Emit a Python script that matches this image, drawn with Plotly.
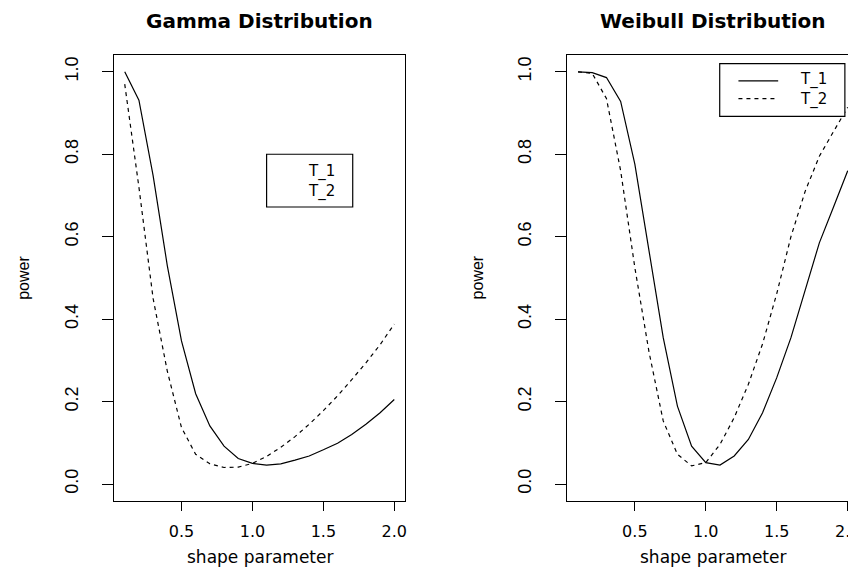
import plotly.graph_objects as go

# ---- data ----
shape = [0.1, 0.2, 0.3, 0.4, 0.5, 0.6, 0.7, 0.8, 0.9, 1.0,
         1.1, 1.2, 1.3, 1.4, 1.5, 1.6, 1.7, 1.8, 1.9, 2.0]

gamma_T1 = [1.000, 0.931, 0.748, 0.530, 0.347, 0.219, 0.141, 0.092, 0.062, 0.050,
            0.046, 0.049, 0.058, 0.068, 0.083, 0.099, 0.120, 0.145, 0.173, 0.205]
gamma_T2 = [0.970, 0.720, 0.450, 0.274, 0.137, 0.072, 0.049, 0.040, 0.041, 0.050,
            0.067, 0.089, 0.115, 0.145, 0.178, 0.214, 0.253, 0.294, 0.338, 0.388]

weibull_T1 = [1.000, 0.998, 0.986, 0.928, 0.776, 0.565, 0.355, 0.189, 0.092, 0.052,
              0.046, 0.068, 0.108, 0.173, 0.258, 0.355, 0.472, 0.585, 0.672, 0.760]
weibull_T2 = [1.000, 0.996, 0.935, 0.760, 0.525, 0.320, 0.153, 0.072, 0.044, 0.052,
              0.096, 0.161, 0.242, 0.340, 0.462, 0.600, 0.710, 0.795, 0.855, 0.914]

x_ticks = [0.5, 1.0, 1.5, 2.0]
x_tick_labels = ["0.5", "1.0", "1.5", "2.0"]
y_ticks = [0.0, 0.2, 0.4, 0.6, 0.8, 1.0]
y_tick_labels = ["0.0", "0.2", "0.4", "0.6", "0.8", "1.0"]

titles = ["Gamma Distribution", "Weibull Distribution"]
legend_labels = ["T_1", "T_2"]

# ---- figure ----
W, H = 856, 568
HFONT = "DejaVu Sans"
VFONT = "Liberation Sans Narrow, Liberation Sans, Arial"

fig = go.Figure()
line_w = 1.2
dash = "4px,4px"

fig.add_trace(go.Scatter(x=shape, y=gamma_T1, mode="lines", name=legend_labels[0],
                         line=dict(color="black", width=line_w), xaxis="x", yaxis="y"))
fig.add_trace(go.Scatter(x=shape, y=gamma_T2, mode="lines", name=legend_labels[1],
                         line=dict(color="black", width=line_w, dash=dash), xaxis="x", yaxis="y"))
fig.add_trace(go.Scatter(x=shape, y=weibull_T1, mode="lines", name=legend_labels[0],
                         line=dict(color="black", width=line_w), xaxis="x2", yaxis="y2"))
fig.add_trace(go.Scatter(x=shape, y=weibull_T2, mode="lines", name=legend_labels[1],
                         line=dict(color="black", width=line_w, dash=dash), xaxis="x2", yaxis="y2"))

ydom = [1 - 492.5 / H, 1 - 47.3 / H]
xdom1 = [106.2 / W, 398.0 / W]
xdom2 = [560.6 / W, 852.5 / W]

xaxis_common = dict(range=[0.024, 2.076], tickvals=x_ticks, ticktext=x_tick_labels,
                    ticks="outside", ticklen=9, tickwidth=1, tickcolor="black",
                    showline=True, mirror=True, linecolor="black", linewidth=1.3,
                    showgrid=False, zeroline=False,
                    tickfont=dict(family=HFONT, size=16, color="black"),
                    ticklabelstandoff=7)
yaxis_common = dict(range=[-0.04, 1.04], tickvals=y_ticks, ticktext=y_tick_labels,
                    ticks="outside", ticklen=11, tickwidth=1, tickcolor="black",
                    showline=True, mirror=True, linecolor="black", linewidth=1.3,
                    showgrid=False, zeroline=False, tickangle=-90,
                    tickfont=dict(family=VFONT, size=18, color="black"),
                    ticklabelstandoff=17)

fig.update_layout(
    width=W, height=H,
    margin=dict(l=0, r=0, t=0, b=0),
    paper_bgcolor="white", plot_bgcolor="white",
    showlegend=False,
    xaxis=dict(domain=xdom1, anchor="y", **xaxis_common),
    yaxis=dict(domain=ydom, anchor="x", **yaxis_common),
    xaxis2=dict(domain=xdom2, anchor="y2", **xaxis_common),
    yaxis2=dict(domain=ydom, anchor="x2", **yaxis_common),
)

ann = []
centers = [(xdom1[0] + xdom1[1]) / 2, (xdom2[0] + xdom2[1]) / 2]
for i, c in enumerate(centers):
    ann.append(dict(text="<b>" + titles[i] + "</b>", x=c, y=1 - 13 / H, xref="paper", yref="paper",
                    showarrow=False, xanchor="center", yanchor="middle",
                    font=dict(family=HFONT, size=20, color="black")))
    ann.append(dict(text="shape parameter", x=c, y=1 - 549 / H, xref="paper", yref="paper",
                    showarrow=False, xanchor="center", yanchor="middle",
                    font=dict(family=HFONT, size=17, color="black")))
ymid = (ydom[0] + ydom[1]) / 2
for px in (16, 470.6):
    ann.append(dict(text="power", x=px / W, y=ymid, xref="paper", yref="paper",
                    showarrow=False, xanchor="center", yanchor="middle", textangle=-90,
                    font=dict(family=VFONT, size=16, color="black")))

legend_text = "<br>".join(legend_labels)

# legend (left panel: text only, as in the reference)
shapes = []
shapes.append(dict(type="rect", xref="x", yref="y", x0=1.10, x1=1.707, y0=0.672, y1=0.800,
                   line=dict(color="black", width=1.2), fillcolor="white", layer="above"))
ann.append(dict(text=legend_text, x=1.379, y=0.734, xref="x", yref="y", showarrow=False,
                xanchor="left", yanchor="middle", align="left",
                font=dict(family=HFONT, size=15, color="black")))

# legend (right panel)
shapes.append(dict(type="rect", xref="x2", yref="y2", x0=1.098, x1=1.98, y0=0.892, y1=1.02,
                   line=dict(color="black", width=1.2), fillcolor="white", layer="above"))
for yy, d in zip([0.978, 0.935], ["solid", dash]):
    shapes.append(dict(type="line", xref="x2", yref="y2", x0=1.23, x1=1.51, y0=yy, y1=yy,
                       line=dict(color="black", width=line_w, dash=d), layer="above"))
ann.append(dict(text=legend_text, x=1.648, y=0.9565, xref="x2", yref="y2", showarrow=False,
                xanchor="left", yanchor="middle", align="left",
                font=dict(family=HFONT, size=15, color="black")))

fig.update_layout(annotations=ann, shapes=shapes)
fig.write_html("out.html")
